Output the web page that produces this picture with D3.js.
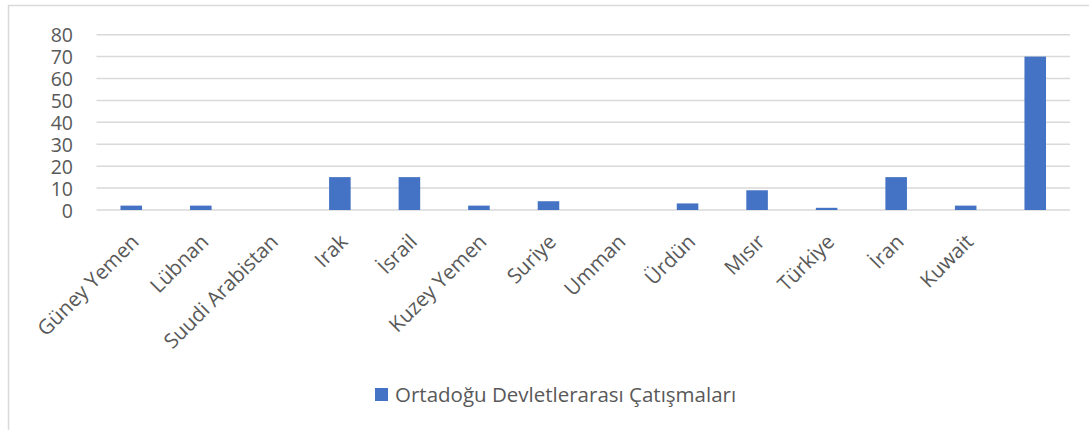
<!DOCTYPE html>
<html>
<head>
<meta charset="utf-8">
<script src="https://cdn.jsdelivr.net/npm/d3@7"></script>
<style>
  html, body { margin: 0; padding: 0; background: #fff; }
  svg { display: block; }
  text { font-family: "Open Sans", sans-serif; fill: #595959; }
</style>
</head>
<body>
<svg id="chart" width="1089" height="430"></svg>
<script>
const categories = ["Güney Yemen", "Lübnan", "Suudi Arabistan", "Irak", "İsrail", "Kuzey Yemen", "Suriye", "Umman", "Ürdün", "Mısır", "Türkiye", "İran", "Kuwait", ""];
const values = [2, 2, 0, 15, 15, 2, 4, 0, 3, 9, 1, 15, 2, 70];
const yTicks = [0, 10, 20, 30, 40, 50, 60, 70, 80];
const seriesName = "Ortadoğu Devletlerarası Çatışmaları";
const barColor = "#4472c4";

const svg = d3.select("#chart");
const W = 1089, H = 430;
const plot = { left: 96.5, right: 1070, top: 34.7, bottom: 210 };
const FONT = "'Open Sans', sans-serif";

// chart border
svg.append("rect")
  .attr("x", 8.5).attr("y", 5.5)
  .attr("width", W + 20).attr("height", H + 20)
  .attr("fill", "none").attr("stroke", "#d9d9d9").attr("stroke-width", 1.5);

const x = d3.scaleBand()
  .domain(d3.range(categories.length))
  .range([plot.left, plot.right])
  .paddingInner(0.69).paddingOuter(0.345);

const y = d3.scaleLinear().domain([0, 80]).range([plot.bottom, plot.top]);

// gridlines
svg.append("g").selectAll("line").data(yTicks).join("line")
  .attr("x1", plot.left).attr("x2", plot.right)
  .attr("y1", d => y(d)).attr("y2", d => y(d))
  .attr("stroke", "#d9d9d9").attr("stroke-width", 1.5);

// y axis labels
const yAxis = d3.axisLeft(y).tickValues(yTicks).tickSize(0).tickPadding(0);
const gy = svg.append("g").attr("transform", "translate(73,0)").call(yAxis);
gy.select(".domain").remove();
gy.selectAll("text")
  .attr("font-size", "19.5px")
  .attr("font-family", FONT)
  .attr("fill", "#595959")
  .attr("dy", "0.36em");

// bars
svg.append("g").selectAll("rect").data(values).join("rect")
  .attr("x", (d, i) => x(i))
  .attr("width", x.bandwidth())
  .attr("y", d => y(d))
  .attr("height", d => y(0) - y(d))
  .attr("fill", barColor);

// x labels
const xAxis = d3.axisBottom(x).tickSize(0).tickFormat(i => categories[i]);
const gx = svg.append("g").attr("transform", `translate(0,${plot.bottom})`).call(xAxis);
gx.select(".domain").remove();
gx.selectAll("text")
  .attr("font-size", "20.5px")
  .attr("font-family", FONT)
  .attr("fill", "#595959")
  .attr("text-anchor", "end")
  .attr("y", 0).attr("dy", 0)
  .attr("transform", "translate(9,33) rotate(-45)");

// legend
const lg = svg.append("g").attr("transform", "translate(375,388)");
lg.append("rect").attr("width", 13).attr("height", 13).attr("fill", barColor);
lg.append("text").attr("x", 20).attr("y", 13.5)
  .attr("font-size", "20.5px").attr("font-family", FONT).text(seriesName);
</script>
</body>
</html>
